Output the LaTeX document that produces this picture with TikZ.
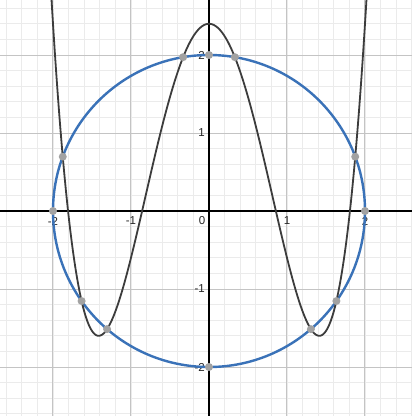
\documentclass[tikz,border=0pt]{standalone}
\usepackage{fontspec}
\setmainfont{Liberation Sans}
\definecolor{cblue}{HTML}{3A72B8}
\definecolor{ccurve}{HTML}{3C3C3C}
\definecolor{dotgray}{HTML}{A2A2A2}
\definecolor{minorg}{HTML}{EBEBEB}
\definecolor{majorg}{HTML}{C4C4C4}
\tikzset{
  minorline/.style={draw=minorg, line width=0.8pt},
  majorline/.style={draw=majorg, line width=1pt},
  axisline/.style={draw=black, line width=1.1pt},
  ticklabel/.style={font=\fontsize{11.5}{12}\selectfont, text=black!85, inner sep=0pt},
  circline/.style={draw=cblue, line width=2.4pt},
  curveline/.style={draw=ccurve, line width=1.8pt},
  ptdot/.style={circle, fill=dotgray, inner sep=0pt, minimum size=8pt}
}
\begin{document}
\begin{tikzpicture}[x=78pt,y=78pt]
\useasboundingbox (-209pt,-205pt) rectangle (203pt,211pt);
\fill[white] (-209pt,-205pt) rectangle (203pt,211pt);
\clip (-209pt,-205pt) rectangle (203pt,211pt);
% minor grid
\foreach \i in {-14,...,14}{
  \draw[minorline] (\i/5,-3) -- (\i/5,3);
  \draw[minorline] (-3,\i/5) -- (3,\i/5);
}
% major grid
\foreach \i in {-2,...,2}{
  \draw[majorline] (\i,-3) -- (\i,3);
  \draw[majorline] (-3,\i) -- (3,\i);
}
% axes
\coordinate (O) at (0,0);
\coordinate (xl) at (-3,0);
\coordinate (xr) at (3,0);
\coordinate (yb) at (0,-3);
\coordinate (yt) at (0,3);
\draw[axisline] (xl) -- (xr);
\draw[axisline] (yb) -- (yt);
% tick labels
\node[ticklabel] (lxm2) at ([yshift=-10pt]-2,0) {-2};
\node[ticklabel] (lxm1) at ([yshift=-10pt]-1,0) {-1};
\node[ticklabel] (lx1) at ([yshift=-10pt]1,0) {1};
\node[ticklabel] (lx2) at ([yshift=-10pt]2,0) {2};
\node[ticklabel] (l0) at ([xshift=-7pt,yshift=-10pt]0,0) {0};
\node[ticklabel, anchor=east] (ly2) at ([xshift=-4pt]0,2) {2};
\node[ticklabel, anchor=east] (ly1) at ([xshift=-4pt]0,1) {1};
\node[ticklabel, anchor=east] (lym1) at ([xshift=-4pt]0,-1) {-1};
\node[ticklabel, anchor=east] (lym2) at ([xshift=-4pt]0,-2) {-2};
% circle
\draw[circline] (O) circle[radius=2];
% quartic
\draw[curveline] plot[domain=-2.04:2.04, samples=400, smooth] (\x, {(\x*\x)*(\x*\x) - 4*\x*\x + 2.4});
% points
\node[ptdot] (p1) at (-2,0) {};
\node[ptdot] (p2) at (2,0) {};
\node[ptdot] (p3) at (0,2) {};
\node[ptdot] (p4) at (0,-2) {};
\node[ptdot] (p5) at (-0.3316,1.9723) {};
\node[ptdot] (p6) at (0.3316,1.9723) {};
\node[ptdot] (p7) at (-1.8749,0.6962) {};
\node[ptdot] (p8) at (1.8749,0.6962) {};
\node[ptdot] (p9) at (-1.6333,-1.1543) {};
\node[ptdot] (p10) at (1.6333,-1.1543) {};
\node[ptdot] (p11) at (-1.3066,-1.5142) {};
\node[ptdot] (p12) at (1.3066,-1.5142) {};
\end{tikzpicture}
\end{document}
